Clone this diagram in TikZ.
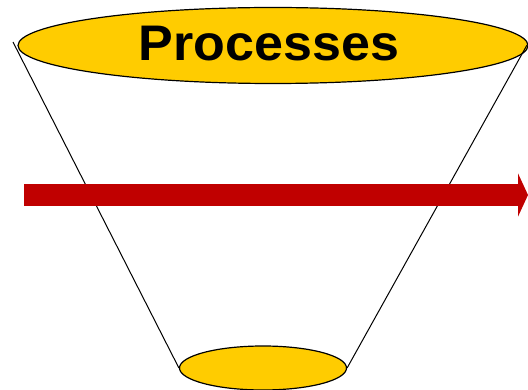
\documentclass[tikz,border=0pt]{standalone}
\usepackage{fontspec}
\setmainfont{Liberation Sans}
\usetikzlibrary{shapes.geometric,arrows.meta}
\definecolor{gold}{RGB}{255,204,0}
\definecolor{darkred}{RGB}{192,0,0}
\tikzset{
  disc/.style={ellipse, draw=black, line width=1.2pt, fill=gold, inner sep=0pt},
  side/.style={draw=black, line width=1pt},
  flow/.style={draw=darkred, line width=22pt, -{Triangle[length=10pt, width=43pt]}},
}
\begin{document}
\begin{tikzpicture}[x=1pt,y=-1pt]
\useasboundingbox (0,0) rectangle (528,390);
\coordinate (tl) at (13,42);
\coordinate (tr) at (527,45);
\node[disc, minimum width=510pt, minimum height=76pt] (top) at (273,45.5) {};
\node[disc, minimum width=167pt, minimum height=44pt] (bot) at (263,368) {};
\draw[side] (tl) -- (bot.west);
\draw[side] (tr) -- (bot.east);
\node[font=\bfseries\fontsize{50}{50}\selectfont, xscale=1.04] (lbl) at (269,44) {Processes};
\coordinate (a0) at (24,195);
\coordinate (a1) at (528,195);
\draw[flow] (a0) -- (a1);
\end{tikzpicture}
\end{document}
